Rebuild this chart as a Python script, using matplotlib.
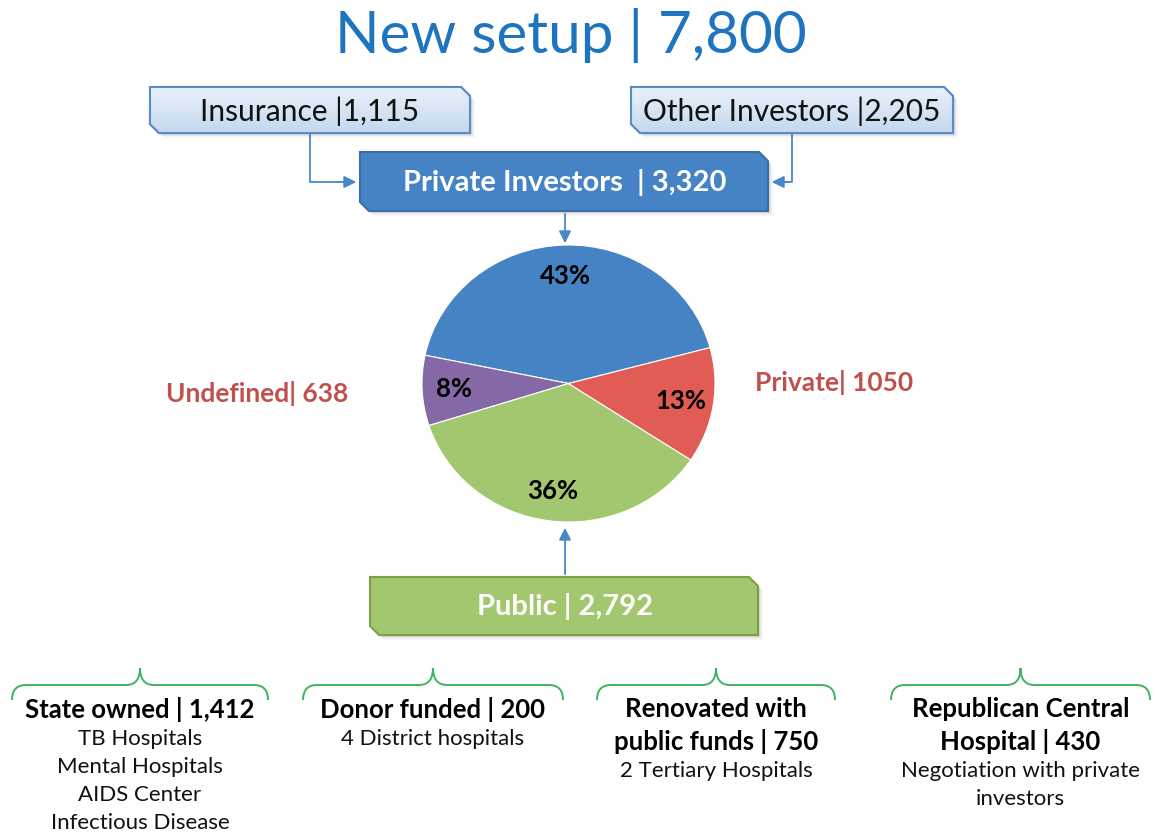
import numpy as np
import matplotlib
matplotlib.use('Agg')
import matplotlib.pyplot as plt
from matplotlib.patches import Polygon, PathPatch
from matplotlib.path import Path

plt.rcParams['font.family'] = ['Lato', 'DejaVu Sans']

# data
title = "New setup | 7,800"
top_boxes = ["Insurance |1,115", "Other Investors |2,205"]
mid_box = "Private Investors  | 3,320"
public_box = "Public | 2,792"
pie_names = ["Private Investors", "Undefined", "Public", "Private"]
pie_values = [3320, 638, 2792, 1050]
pie_colors = ["#4683C4", "#8568A6", "#A2C76E", "#E05C55"]
side_labels = ["Undefined| 638", "Private| 1050"]
groups = ["State owned | 1,412", "Donor funded | 200",
          "Renovated with\npublic funds | 750", "Republican Central\nHospital | 430"]
group_notes = ["TB Hospitals\nMental Hospitals\nAIDS Center\nInfectious Disease",
               "4 District hospitals",
               "2 Tertiary Hospitals",
               "Negotiation with private\ninvestors"]

W, H = 1153, 834
fig = plt.figure(figsize=(W / 100, H / 100), dpi=100)
ax = fig.add_axes([0, 0, 1, 1])
ax.set_xlim(0, W)
ax.set_ylim(H, 0)
ax.axis('off')


def chamfer_box(x0, y0, x1, y1, c=9):
    # top-right and bottom-left corners cut
    return [(x0, y0), (x1 - c, y0), (x1, y0 + c), (x1, y1), (x0 + c, y1), (x0, y1 - c)]


def draw_box(x0, y0, x1, y1, face, edge, grad=None, shadow=True):
    pts = chamfer_box(x0, y0, x1, y1)
    if shadow:
        for k, a in [(5, 0.06), (3, 0.10), (1.5, 0.14)]:
            sp = [(x + k, y + k) for x, y in pts]
            ax.add_patch(Polygon(sp, closed=True, fc='#555555', ec='none', alpha=a, zorder=2))
    poly = Polygon(pts, closed=True, fc=face, ec=edge, lw=1.5, zorder=3)
    ax.add_patch(poly)
    if grad is not None:
        g = np.linspace(0, 1, 100).reshape(-1, 1)
        cmap = matplotlib.colors.LinearSegmentedColormap.from_list('g', grad)
        im = ax.imshow(g, cmap=cmap, extent=(x0, x1, y1, y0), aspect='auto', zorder=3.5)
        im.set_clip_path(poly)
        ax.add_patch(Polygon(pts, closed=True, fc='none', ec=edge, lw=1.5, zorder=4))
        ax.set_xlim(0, W)
        ax.set_ylim(H, 0)


# title
ax.text(571, 35, title, ha='center', va='center', fontsize=42, color='#1F74C0')

# top boxes
draw_box(150, 87, 470, 133, '#D5E3F3', '#5B8CC8', grad=['#EAF1FA', '#C4D8EF'])
ax.text(310, 111, top_boxes[0], ha='center', va='center', fontsize=21.5, color='#111111', zorder=5)
draw_box(631, 87, 953, 133, '#D5E3F3', '#5B8CC8', grad=['#EAF1FA', '#C4D8EF'])
ax.text(792, 111, top_boxes[1], ha='center', va='center', fontsize=21.5, color='#111111', zorder=5)

# private investors box
draw_box(360, 152, 768, 211, '#4683C4', '#3A6DA6')
ax.text(565, 182, mid_box, ha='center', va='center', fontsize=21, fontweight='bold',
        color='white', zorder=5)

# public box
draw_box(370, 577, 758, 635, '#A2C76E', '#7E9F4A')
ax.text(565, 607, public_box, ha='center', va='center', fontsize=21, fontweight='bold',
        color='white', zorder=5)

# connectors
lc = '#4A86C8'
ax.plot([310, 310, 345], [133, 182, 182], color=lc, lw=1.3, zorder=1)
ax.annotate('', xy=(359, 182), xytext=(340, 182),
            arrowprops=dict(arrowstyle='-|>', color=lc, lw=1.3, mutation_scale=18))
ax.plot([792, 792, 785], [133, 182, 182], color=lc, lw=1.3, zorder=1)
ax.annotate('', xy=(769, 182), xytext=(790, 182),
            arrowprops=dict(arrowstyle='-|>', color=lc, lw=1.3, mutation_scale=18))
ax.annotate('', xy=(565, 246), xytext=(565, 211),
            arrowprops=dict(arrowstyle='-|>', color=lc, lw=1.3, mutation_scale=18))
ax.annotate('', xy=(565, 525), xytext=(565, 577),
            arrowprops=dict(arrowstyle='-|>', color=lc, lw=1.3, mutation_scale=18))

# pie
pax = fig.add_axes([422 / W, (H - 522) / H, 293 / W, 277 / H])
wedges, texts, autotexts = pax.pie(pie_values, colors=pie_colors, startangle=15,
                                   autopct='%1.0f%%', pctdistance=0.78,
                                   wedgeprops=dict(edgecolor='white', linewidth=0.8),
                                   textprops=dict(fontsize=18.5, fontweight='bold', color='black'))
pax.set_aspect('auto')
pax.set_xlim(-1.0, 1.0)
pax.set_ylim(-1.0, 1.0)
pax.axis('off')

# side labels
ax.text(257, 393, side_labels[0], ha='center', va='center', fontsize=19,
        fontweight='bold', color='#C0504D')
ax.text(834, 382, side_labels[1], ha='center', va='center', fontsize=19,
        fontweight='bold', color='#C0504D')


# braces
def brace(x0, x1, ytip=668, ymid=685, yend=700, r=14):
    xc = (x0 + x1) / 2
    verts = [(x0, yend), (x0, ymid), (x0 + r, ymid),
             (xc - r, ymid), (xc, ymid), (xc, ytip),
             (xc, ymid), (xc + r, ymid),
             (x1 - r, ymid), (x1, ymid), (x1, yend)]
    codes = [Path.MOVETO, Path.CURVE3, Path.CURVE3,
             Path.LINETO, Path.CURVE3, Path.CURVE3,
             Path.CURVE3, Path.CURVE3,
             Path.LINETO, Path.CURVE3, Path.CURVE3]
    ax.add_patch(PathPatch(Path(verts, codes), fc='none', ec='#3DB55E', lw=1.4))


spans = [(12, 268), (303, 563), (597, 835), (891, 1150)]
for (a, b), head, note in zip(spans, groups, group_notes):
    brace(a, b)
    xc = (a + b) / 2
    y = 709
    for line in head.split('\n'):
        ax.text(xc, y, line, ha='center', va='center', fontsize=18.5, fontweight='bold',
                color='black')
        y += 32
    y -= 2
    for line in note.split('\n'):
        ax.text(xc, y, line, ha='center', va='center', fontsize=16, color='#111111')
        y += 28

fig.savefig('out.png', dpi=100)
